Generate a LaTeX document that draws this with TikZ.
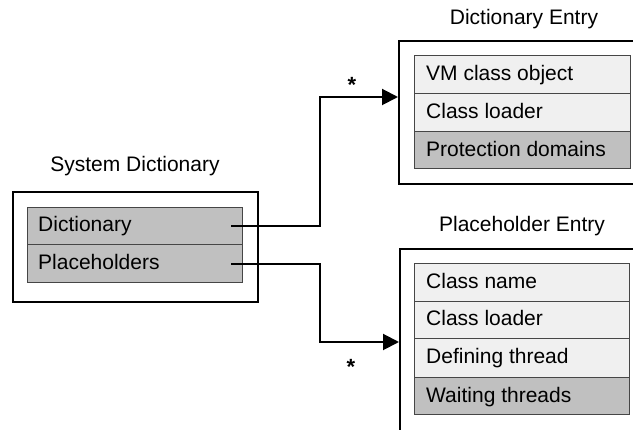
\documentclass[tikz,border=0pt]{standalone}
\usepackage{fontspec}
\setmainfont{Liberation Sans}
\usetikzlibrary{arrows.meta}
\definecolor{rowlight}{RGB}{240,240,240}
\definecolor{rowdark}{RGB}{192,192,192}
\definecolor{rowline}{RGB}{70,70,70}
\begin{document}
\begin{tikzpicture}[x=1pt,y=-1pt,
  font=\fontsize{21}{25}\selectfont,
  outerbox/.style={draw=black,line width=2pt},
  rowbox/.style={draw=rowline,line width=1.1pt,rectangle,inner sep=0pt,anchor=north west},
  light/.style={rowbox,fill=rowlight},
  dark/.style={rowbox,fill=rowdark},
  rowtext/.style={anchor=base west,inner sep=0pt},
  title/.style={anchor=base,inner sep=0pt},
  conn/.style={draw=black,line width=2pt,-{Triangle[length=16pt,width=16pt]}},
  mult/.style={inner sep=0pt,font=\fontsize{22}{24}\selectfont\bfseries}]
\useasboundingbox (0,0) rectangle (633,430);
\clip (0,0) rectangle (633,430);

% System Dictionary
\node[title] (sdTitle) at (135,172) {System Dictionary};
\node[outerbox,rectangle,inner sep=0pt,anchor=north west,minimum width=245pt,minimum height=110pt] (sdOuter) at (12,191) {};
\node[dark,minimum width=215pt,minimum height=37pt] (sdDict) at (27,207) {};
\node[dark,minimum width=215pt,minimum height=38pt] (sdPlace) at (27,244) {};
\node[rowtext] (tDict) at (38,232) {Dictionary};
\node[rowtext] (tPlace) at (38,270) {Placeholders};

% Dictionary Entry
\node[title] (deTitle) at (524,25) {Dictionary Entry};
\node[outerbox,rectangle,inner sep=0pt,anchor=north west,minimum width=260pt,minimum height=143pt] (deOuter) at (398,40) {};
\node[light,minimum width=216pt,minimum height=38pt] (deVM) at (414,55) {};
\node[light,minimum width=216pt,minimum height=38pt] (deLoader) at (414,93) {};
\node[dark,minimum width=216pt,minimum height=37pt] (dePD) at (414,131) {};
\node[rowtext] (tVM) at (426,81) {VM class object};
\node[rowtext] (tLoader1) at (426,119) {Class loader};
\node[rowtext] (tPD) at (426,157) {Protection domains};

% Placeholder Entry
\node[title] (peTitle) at (522,232) {Placeholder Entry};
\node[outerbox,rectangle,inner sep=0pt,anchor=north west,minimum width=260pt,minimum height=220pt] (peOuter) at (399,248) {};
\node[light,minimum width=215pt,minimum height=38pt] (peName) at (414,263) {};
\node[light,minimum width=215pt,minimum height=37pt] (peLoader) at (414,301) {};
\node[light,minimum width=215pt,minimum height=39pt] (peDef) at (414,338) {};
\node[dark,minimum width=215pt,minimum height=37pt] (peWait) at (414,377) {};
\node[rowtext] (tName) at (426,289) {Class name};
\node[rowtext] (tLoader2) at (426,326) {Class loader};
\node[rowtext] (tDef) at (426,364) {Defining thread};
\node[rowtext] (tWait) at (426,403) {Waiting threads};

% connectors
\coordinate (bendA) at (320,97);
\coordinate (bendB) at (320,342);
\draw[conn] ([xshift=-12pt]sdDict.east) -| (bendA) -- (bendA -| deOuter.west);
\draw[conn] ([xshift=-12pt]sdPlace.east) -| (bendB) -- (bendB -| peOuter.west);
\node[mult] (multA) at (352,85) {*};
\node[mult] (multB) at (351,367) {*};
\end{tikzpicture}
\end{document}
